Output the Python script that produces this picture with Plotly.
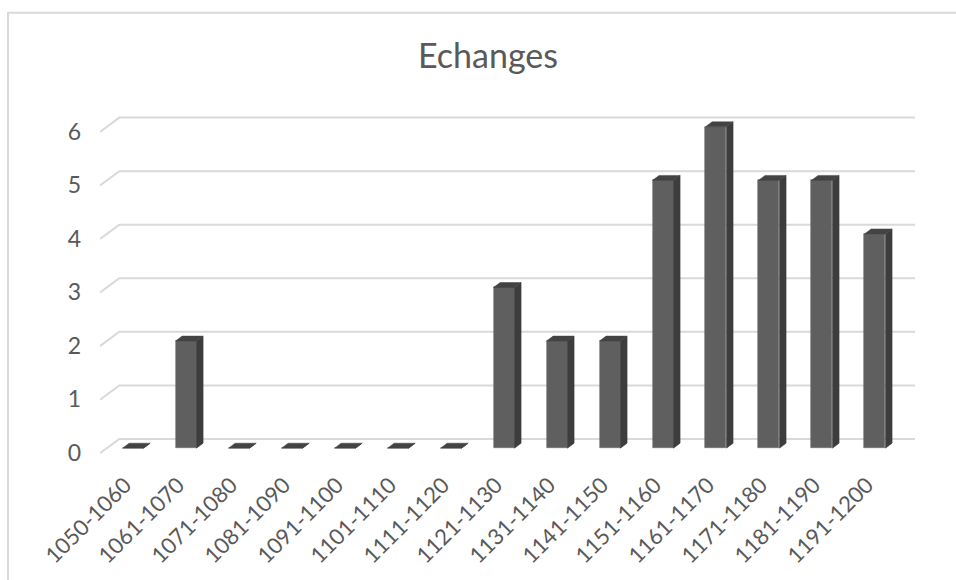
import plotly.graph_objects as go

categories = ["1050-1060", "1061-1070", "1071-1080", "1081-1090", "1091-1100",
              "1101-1110", "1111-1120", "1121-1130", "1131-1140", "1141-1150",
              "1151-1160", "1161-1170", "1171-1180", "1181-1190", "1191-1200"]
values = [0, 2, 0, 0, 0, 0, 0, 3, 2, 2, 5, 6, 5, 5, 4]
y_ticks = [0, 1, 2, 3, 4, 5, 6]
title_text = "Echanges"

W, H = 956, 580
L, R, T, B = 100, 915, 105, 470
XMIN, XMAX = -0.623, 14.755
YMIN, YMAX = -0.524, 6.235
px_per_x = (R - L) / (XMAX - XMIN)
px_per_y = (B - T) / (YMAX - YMIN)

bar_w = 21 / px_per_x
base_off = -9.3 / px_per_y
dx = 6.6 / px_per_x
dy = 5.0 / px_per_y
floor_dx = 19.3 / px_per_x
floor_dy = 14.4 / px_per_y

FONT = "Lato"
TXT = "#595959"
GRID = "#d9d9d9"

xs = list(range(len(categories)))
fig = go.Figure()

# front faces
fig.add_trace(go.Bar(
    x=xs, y=values, base=[base_off] * len(values), width=bar_w,
    marker=dict(color="#5f5f5f", line=dict(color="#6e6e6e", width=0.6)),
    hoverinfo="skip", showlegend=False))

# side faces
sx, sy = [], []
for i, v in zip(xs, values):
    b0 = base_off
    xr = i + bar_w / 2
    sx += [xr, xr + dx, xr + dx, xr, xr, None]
    sy += [b0, b0 + dy, b0 + v + dy, b0 + v, b0, None]
fig.add_trace(go.Scatter(x=sx, y=sy, mode="lines", fill="toself",
                         fillcolor="#3d3d3d", line=dict(color="#3d3d3d", width=0.5),
                         hoverinfo="skip", showlegend=False))
# top faces
tx, ty = [], []
for i, v in zip(xs, values):
    top = base_off + v
    xl = i - bar_w / 2
    xr = i + bar_w / 2
    tx += [xl, xl + dx, xr + dx, xr, xl, None]
    ty += [top, top + dy, top + dy, top, top, None]
fig.add_trace(go.Scatter(x=tx, y=ty, mode="lines", fill="toself",
                         fillcolor="#434343", line=dict(color="#434343", width=0.5),
                         hoverinfo="skip", showlegend=False))

shapes = []
for v in y_ticks:
    path = (f"M {XMIN},{v - floor_dy} L {XMIN + floor_dx},{v} L {XMAX},{v}")
    shapes.append(dict(type="path", path=path, xref="x", yref="y",
                       line=dict(color=GRID, width=2), layer="below"))
# chart border
shapes.append(dict(type="rect", xref="paper", yref="paper",
                   x0=(8 - L) / (R - L), x1=(990 - L) / (R - L),
                   y0=(B - 620) / (B - T), y1=(B - 12) / (B - T),
                   line=dict(color=GRID, width=2), fillcolor="rgba(0,0,0,0)",
                   layer="below"))

fig.update_layout(
    width=W, height=H,
    margin=dict(l=L, r=W - R, t=T, b=H - B),
    paper_bgcolor="white", plot_bgcolor="white",
    title=dict(text=title_text, x=488 / W, xref="container", xanchor="center",
               y=1 - 56 / H, yref="container", yanchor="middle",
               font=dict(family=FONT, size=34, color=TXT)),
    shapes=shapes,
    bargap=0,
    xaxis=dict(range=[XMIN, XMAX], tickmode="array", tickvals=xs, ticktext=categories,
               tickangle=-45, showgrid=False, zeroline=False, showline=False, ticks="",
               ticklabelshift=-8,
               tickfont=dict(family=FONT, size=22, color=TXT)),
    yaxis=dict(range=[YMIN, YMAX], tickmode="array", tickvals=y_ticks,
               showgrid=False, zeroline=False, showline=False, ticks="",
               ticklabelshift=14, ticklabelstandoff=18,
               tickfont=dict(family=FONT, size=23, color=TXT)),
)

fig.write_html("out.html", config={"displayModeBar": False},
               post_script="document.body.style.margin='0';")
